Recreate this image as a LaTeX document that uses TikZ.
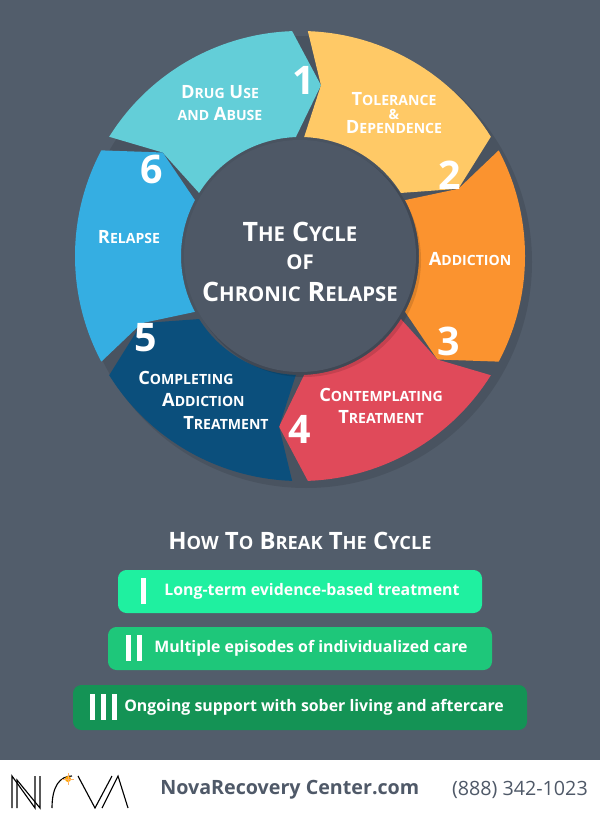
\documentclass[tikz,border=0pt]{standalone}
\usepackage{fontspec}
\setmainfont{Open Sans}
\definecolor{bgdark}{HTML}{525D6B}
\definecolor{hubgray}{HTML}{4E5866}
\definecolor{segone}{HTML}{63CED8}
\definecolor{segtwo}{HTML}{FFC966}
\definecolor{segthree}{HTML}{FB932F}
\definecolor{segfour}{HTML}{E04A5A}
\definecolor{segfive}{HTML}{0B4F7C}
\definecolor{segsix}{HTML}{35AEE2}
\definecolor{barone}{HTML}{1FF0A0}
\definecolor{bartwo}{HTML}{1EC77A}
\definecolor{barthree}{HTML}{149355}
\definecolor{footgray}{HTML}{4F5968}
\newcommand{\SmCap}[2]{{\fontsize{13}{14}\selectfont #1}{\fontsize{10}{11}\selectfont #2}}
\newcommand{\BigCap}[2]{{\fontsize{19}{20}\selectfont #1}{\fontsize{14.5}{15}\selectfont #2}}
\newcommand{\HeadCap}[2]{{\fontsize{17}{18}\selectfont #1}{\fontsize{13}{14}\selectfont #2}}
\newcommand{\SmSp}{{\fontsize{13}{14}\selectfont\ }}
\newcommand{\BigSp}{{\fontsize{19}{20}\selectfont\ }}
\newcommand{\HeadSp}{{\fontsize{17}{18}\selectfont\ }}
% visual start angle, visual end angle (clockwise), colour
\newcommand{\segment}[3]{%
  \fill[#3] ($(hub)+(-#1+2:225)$) arc[start angle=-#1+2,end angle=-#2-2,radius=225]
    -- ($(hub)+(-#2+7:172)$) -- ($(hub)+(-#2-2:119)$)
    arc[start angle=-#2-2,end angle=-#1+2,radius=119]
    -- ($(hub)+(-#1+7:172)$) -- cycle;}
\usetikzlibrary{calc}
\tikzset{
  steplabel/.style={text=white,font=\bfseries,align=center,inner sep=0pt},
  stepnum/.style={text=white,font=\bfseries\fontsize{28}{28}\selectfont,inner sep=0pt},
  barbox/.style={rounded corners=6pt,inner sep=0pt},
  bartext/.style={text=white,font=\fontsize{11.3}{13}\selectfont\bfseries,anchor=west,inner sep=0pt}
}
\begin{document}
\begin{tikzpicture}[x=0.025cm,y=-0.025cm]
\fill[bgdark] (0,0) rectangle (600,760);
\fill[white] (0,760) rectangle (600,819);
\useasboundingbox (0,0) rectangle (600,819);
\coordinate (hub) at (300,256);

% ring
\fill[black,opacity=0.10] ($(hub)+(6,6)$) circle[radius=226];
\segment{150}{90}{segone}
\segment{90}{30}{segtwo}
\segment{30}{-30}{segthree}
\segment{-30}{-90}{segfour}
\segment{-90}{-150}{segfive}
\segment{-150}{-210}{segsix}
\fill[black,opacity=0.12] ($(hub)+(4,4)$) circle[radius=117];
\fill[hubgray] (hub) circle[radius=116];

\node[steplabel] (use) at (220,103) {\SmCap{D}{RUG}\SmSp\SmCap{U}{SE}\\[3pt]\SmCap{}{AND}\SmSp\SmCap{A}{BUSE}};
\node[stepnum] (n1) at (304,80) {1};
\node[steplabel] (tol) at (394,113) {\SmCap{T}{OLERANCE}\\[-2pt]\SmCap{}{\&}\\[-2pt]\SmCap{D}{EPENDENCE}};
\node[stepnum] (n2) at (450,175) {2};
\node[steplabel] (add) at (470,259) {\SmCap{A}{DDICTION}};
\node[stepnum] (n3) at (449,341) {3};
\node[steplabel] (con) at (381,406) {\SmCap{C}{ONTEMPLATING}\\[4pt]\SmCap{T}{REATMENT}};
\node[stepnum] (n4) at (300,429) {4};
\node[stepnum] (n5) at (146,338) {5};
\node[steplabel,align=left,anchor=west] (com) at (138,400) {\SmCap{C}{OMPLETING}\\[4pt]\hspace*{17pt}\SmCap{A}{DDICTION}\\[4pt]\hspace*{32pt}\SmCap{T}{REATMENT}};
\node[stepnum] (n6) at (152,169) {6};
\node[steplabel] (rel) at (129,237) {\SmCap{R}{ELAPSE}};
\node[steplabel] (title) at (300,262) {\BigCap{T}{HE}\BigSp\BigCap{C}{YCLE}\\[8pt]\BigCap{}{OF}\\[8pt]\BigCap{C}{HRONIC}\BigSp\BigCap{R}{ELAPSE}};

% how to break the cycle
\node[steplabel] (head) at (300,541) {\HeadCap{H}{OW}\HeadSp\HeadCap{T}{O}\HeadSp\HeadCap{B}{REAK}\HeadSp\HeadCap{T}{HE}\HeadSp\HeadCap{C}{YCLE}};
\fill[barone,barbox] (118,570) rectangle (482,613);
\fill[bartwo,barbox] (108,627) rectangle (492,670);
\fill[barthree,barbox] (73,685) rectangle (527,730);
\fill[white] (141,578) rectangle (146,604);
\fill[white] (126,635) rectangle (131,661);
\fill[white] (137,635) rectangle (142,661);
\fill[white] (90,694) rectangle (95,720);
\fill[white] (101,694) rectangle (106,720);
\fill[white] (112,694) rectangle (117,720);
\node[bartext] (b1) at (164,591) {Long-term evidence-based treatment};
\node[bartext] (b2) at (154,648) {Multiple episodes of individualized care};
\node[bartext] (b3) at (124,707) {Ongoing support with sober living and aftercare};

% footer
\draw[black,line width=0.8pt] (12,808) -- (12,776) -- (35,808) -- (35,776);
\draw[black,line width=0.8pt] (17,808) -- (17,780) -- (40,808) -- (40,776);
\draw[black,line width=0.8pt] (52,808) .. controls (52,786) and (60,776) .. (72,776);
\draw[black,line width=0.8pt] (78,776) -- (95,808) -- (112,776);
\draw[black,line width=0.8pt] (102,808) -- (118,776) -- (128,808);
\fill[orange!70!yellow] (68,779) circle[radius=3];
\draw[orange!60,line width=0.4pt] (62,779) -- (74,779) (68,773) -- (68,785);
\node[text=footgray,font=\bfseries\fontsize{14}{14}\selectfont,anchor=west,inner sep=0pt] (site) at (160,790) {NovaRecovery Center.com};
\node[text=footgray,font=\fontsize{14}{14}\selectfont,anchor=east,inner sep=0pt] (phone) at (588,790) {(888) 342-1023};
\end{tikzpicture}
\end{document}
